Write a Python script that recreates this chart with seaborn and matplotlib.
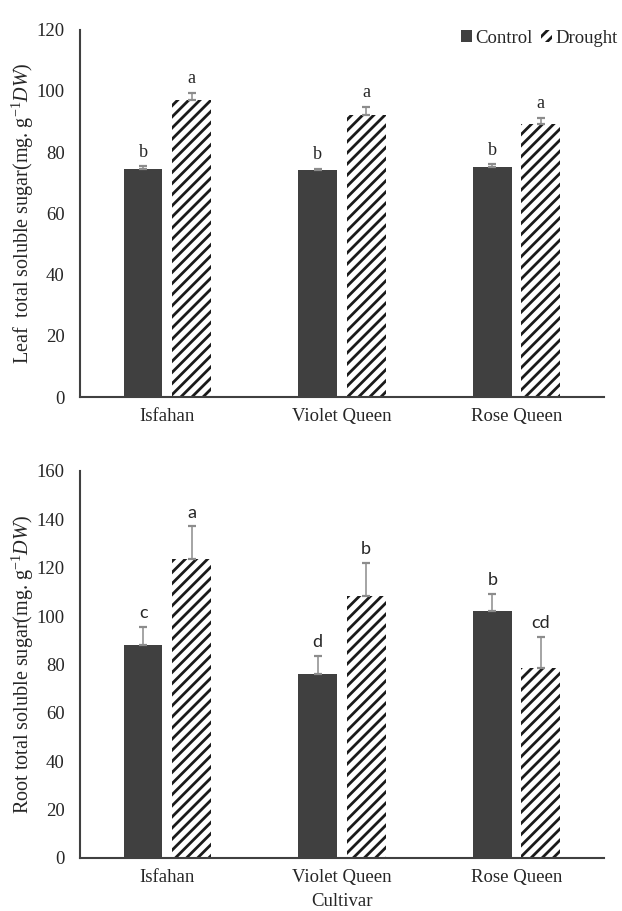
import numpy as np
import pandas as pd
import matplotlib
matplotlib.use("Agg")
import matplotlib.pyplot as plt
import seaborn as sns
from matplotlib.patches import Patch

# --- data ---
cultivars = ["Isfahan", "Violet Queen", "Rose Queen"]
treatments = ["Control", "Drought"]

leaf_control = [74.5, 74.0, 75.0]
leaf_control_err = [0.9, 0.6, 1.0]
leaf_drought = [97.0, 92.0, 89.0]
leaf_drought_err = [2.4, 2.7, 2.2]
leaf_letters_control = ["b", "b", "b"]
leaf_letters_drought = ["a", "a", "a"]

root_control = [88.0, 76.0, 102.0]
root_control_err = [7.7, 7.5, 7.3]
root_drought = [123.5, 108.5, 78.5]
root_drought_err = [13.7, 13.5, 13.0]
root_letters_control = ["c", "d", "b"]
root_letters_drought = ["a", "b", "cd"]

sns.set_style("white")
plt.rcParams["font.family"] = ["Liberation Serif", "DejaVu Serif"]
plt.rcParams["mathtext.fontset"] = "custom"
plt.rcParams["mathtext.rm"] = "Liberation Serif"
plt.rcParams["mathtext.it"] = "Liberation Serif:italic"
plt.rcParams["hatch.linewidth"] = 2.0
plt.rcParams["hatch.color"] = "#1a1a1a"

DARK = "#404040"
ERR = "#8c8c8c"


def make_df(control, drought):
    return pd.DataFrame({
        "cultivar": cultivars * 2,
        "treatment": ["Control"] * 3 + ["Drought"] * 3,
        "value": list(control) + list(drought),
    })


def panel(ax, control, c_err, drought, d_err, let_c, let_d, ymax, ylabel, letter_font):
    df = make_df(control, drought)
    sns.barplot(data=df, x="cultivar", y="value", hue="treatment",
                order=cultivars, hue_order=treatments,
                palette={"Control": DARK, "Drought": "white"},
                width=0.555, gap=0.2, errorbar=None, ax=ax,
                edgecolor="none", legend=False)
    bar_conts = list(ax.containers[:2])
    # hatch the drought bars
    for bar in bar_conts[1]:
        bar.set_hatch("///")
        bar.set_edgecolor("#1a1a1a")
        bar.set_linewidth(0)
    errs = [c_err, d_err]
    lets = [let_c, let_d]
    for k, cont in enumerate(bar_conts):
        for i, bar in enumerate(cont):
            xc = bar.get_x() + bar.get_width() / 2
            h = bar.get_height()
            e = errs[k][i]
            ax.errorbar(xc, h, yerr=[[0], [e]], fmt="none", ecolor=ERR,
                        elinewidth=1.1, capsize=3, capthick=1.6)
            ax.annotate(lets[k][i], (xc, h + e), xytext=(0, 4),
                        textcoords="offset points", ha="center", va="bottom",
                        fontsize=13, family=letter_font)
    ax.set_xlim(-0.5, 2.5)
    ax.set_ylim(0, ymax)
    ax.set_yticks(np.arange(0, ymax + 1, 20))
    ax.tick_params(axis="y", length=0, labelsize=13.5, pad=11)
    ax.tick_params(axis="x", length=0, labelsize=13.5, pad=8)
    for s in ["top", "right"]:
        ax.spines[s].set_visible(False)
    for s in ["left", "bottom"]:
        ax.spines[s].set_color(DARK)
        ax.spines[s].set_linewidth(1.5)
    ax.set_ylabel(ylabel, fontsize=14.5)
    ax.set_xlabel("")


fig = plt.figure(figsize=(6.22, 9.11), dpi=100)
ax1 = fig.add_axes([0.1286, 0.5642, 0.8424, 0.4034])
ax2 = fig.add_axes([0.1286, 0.0582, 0.8424, 0.4248])

panel(ax1, leaf_control, leaf_control_err, leaf_drought, leaf_drought_err,
      leaf_letters_control, leaf_letters_drought, 120,
      r"Leaf  total soluble sugar(mg. g$^{-1}$$\it{DW)}$", ["Liberation Serif"])
panel(ax2, root_control, root_control_err, root_drought, root_drought_err,
      root_letters_control, root_letters_drought, 160,
      r"Root total soluble sugar(mg. g$^{-1}$$\it{DW)}$", ["Lato", "DejaVu Sans"])
ax2.set_xlabel("Cultivar", fontsize=13.5, labelpad=5)
ax1.yaxis.set_label_coords(-0.084, 0.5)
ax2.yaxis.set_label_coords(-0.084, 0.5)

handles = [Patch(facecolor=DARK, edgecolor="none", label="Control"),
           Patch(facecolor="white", edgecolor="#1a1a1a", linewidth=0,
                 hatch="///", label="Drought")]
fig.legend(handles=handles, loc="center right", bbox_to_anchor=(1.02, 0.958),
           ncol=2, frameon=False, fontsize=13.5, handlelength=0.55,
           handleheight=0.55, handletextpad=0.2, columnspacing=0.45)

fig.savefig("out.png", dpi=100)
